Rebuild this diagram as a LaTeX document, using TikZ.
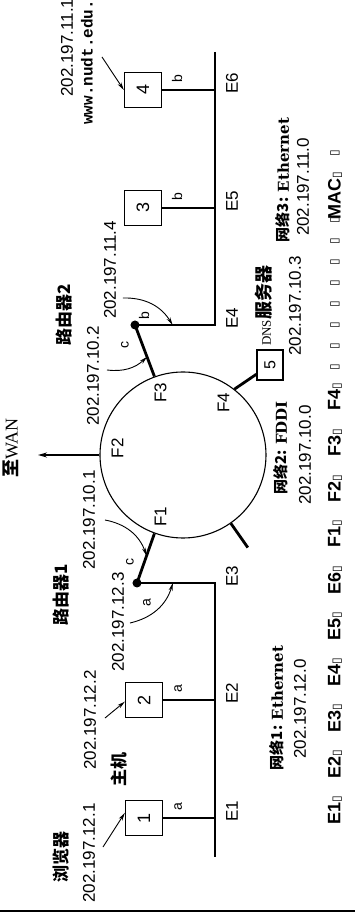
\documentclass[tikz,border=0pt]{standalone}
\usepackage{fontspec}
\setmainfont{Liberation Sans}
\newfontfamily\cjk{Noto Sans CJK SC}
\newfontfamily\wideserif{DejaVu Serif}
\newfontfamily\timesfnt{Liberation Serif}
\newfontfamily\monofnt{Liberation Mono}
\newfontfamily\symfnt{DejaVu Sans}
\usepackage{tikz}
\usetikzlibrary{arrows.meta, positioning, calc}
\newcommand{\fsz}[1]{\fontsize{#1}{#1}\selectfont}
\newcommand{\nogly}{{\symfnt\fsz{12}▯}}
\tikzset{
    myarrow/.style={-{Stealth[length=8pt, width=4pt]}, line width=0.9pt},
    hostbox/.style={draw, rectangle, line width=1.3pt, minimum width=35pt, minimum height=37pt, inner sep=0pt, font=\fsz{18}},
    router/.style={circle, fill=black, inner sep=0pt, minimum size=9pt},
    bus/.style={line width=1.8pt},
    link/.style={line width=2.8pt},
    ip/.style={inner sep=0pt, font=\fsz{17}},
    cnlabel/.style={inner sep=0pt, font=\fsz{17}\cjk\bfseries},
    port/.style={inner sep=0pt, font=\fsz{17}},
    tag/.style={inner sep=0pt, font=\fsz{14}},
    netlabel/.style={inner sep=0pt, font=\fsz{15}},
    legend/.style={inner sep=0pt, font=\fsz{18}\bfseries}
}

\begin{document}
\begin{tikzpicture}[x=1pt, y=1pt, rotate=90, transform shape]
    \useasboundingbox (0,0) rectangle (916,355);
    % network 2: the FDDI ring
    \node (ring) [circle, draw, line width=1.1pt, minimum size=166pt, inner sep=0pt] at (461,172) {};
    \coordinate (r1) at (333,218);
    \coordinate (r2) at (591,220);
    \node (h1) [hostbox] at (98,211) {1};
    \node (h2) [hostbox] at (216,211) {2};
    \node (h3) [hostbox] at (708,212) {3};
    \node (h4) [hostbox] at (826,212) {4};
    \node (h5) [hostbox, minimum width=30pt, minimum height=26pt, font=\fsz{16}] at (551,85) {5};

    % the two ethernets
    \coordinate (e3) at (333,140);
    \coordinate (e4) at (591,140);
    \coordinate (e1) at (h1 |- e3);
    \coordinate (e2) at (h2 |- e3);
    \coordinate (e5) at (h3 |- e4);
    \coordinate (e6) at (h4 |- e4);
    \coordinate (bus1end) at (59,140);
    \coordinate (bus3end) at (864,140);
    \draw [bus] (bus1end) -- (e3) -- (r1);
    \draw [bus] (bus3end) -- (e4) -- (r2);
    \foreach \h/\e in {h1/e1, h2/e2, h3/e5, h4/e6}
        \draw [bus] (\h) -- (\e);
    \foreach \e/\lbl in {e1/E1, e2/E2, e3/E3, e4/E4, e5/E5, e6/E6}
        \node (l\lbl) [port] at ($(\e)+(7,-17)$) {\lbl};
    \foreach \h/\t in {h1/a, h2/a, h3/b, h4/b}
        \node (t\h) [tag] at ($(\h.south)+(11,-15)$) {\t};

    % routers and ring stations
    \draw [link] (r1) -- (ring.160);
    \draw [link] (r2) -- (ring.20);
    \draw [link] (ring.322) -- (h5);
    \coordinate (stub) at ($(ring.center)+(215:113)$);
    \draw [link] (ring.215) -- (stub);
    \node (r1dot) [router] at (r1) {};
    \node (r2dot) [router] at (r2) {};
    \foreach \ang/\lbl in {160/F1, 84/F2, 20/F3, 322/F4}
        \node (p\lbl) [port] at ($(ring.center)!0.79!(ring.\ang)$) {\lbl};
    \node (c1) [tag] at (354,225) {c};
    \node (a1) [tag] at (313,208) {a};
    \node (c2) [tag] at (571,230) {c};
    \node (b2) [tag] at (600,211) {b};

    \coordinate (wantip) at (461,317);
    \draw [line width=1.4pt, -{Stealth[length=9pt, width=5pt]}] (ring.90) -- (wantip);
    \node (wan) [inner sep=0pt] at (468,344) {{\cjk\bfseries\fsz{18}至}{\timesfnt\fsz{18}WAN}};

    % address arrows
    \coordinate (k1) at ($(r1)!0.55!(ring.160)$);
    \coordinate (k2) at ($(r1)!0.46!(e3)$);
    \coordinate (k3) at ($(r2)!0.62!(ring.20)$);
    \coordinate (k4) at ($(r2)!0.47!(e4)$);
    \coordinate (s1) at (396,250);
    \coordinate (s2) at (293,225);
    \coordinate (s3) at (546,248);
    \coordinate (s4) at (618,232);
    \draw [myarrow] (s1) to[bend left=30] (k1);
    \draw [myarrow] (s2) to[bend right=30] (k2);
    \draw [myarrow] (s3) to[bend right=25] (k3);
    \draw [myarrow] (s4) to[bend left=30] (k4);
    \coordinate (s5) at (69,252);
    \coordinate (s6) at (198,250);
    \coordinate (s7) at (859,253);
    \draw [myarrow] (s5) -- (h1.75);
    \draw [myarrow] (s6) -- (h2.95);
    \draw [myarrow] (s7) -- (h4.north);

    % texts
    \node (brw) [cnlabel] at (59,294) {浏览器};
    \node (ip121) [ip] at (63,266) {202.197.12.1};
    \node (hst) [cnlabel] at (146,236) {主机};
    \node (ip122) [ip] at (196,265) {202.197.12.2};
    \node (rt1) [cnlabel] at (321,294) {路由器1};
    \node (ip123) [ip] at (294,237) {202.197.12.3};
    \node (ip101) [ip] at (396,266) {202.197.10.1};
    \node (rt2) [cnlabel] at (601,291) {路由器2};
    \node (ip102) [ip] at (540,262) {202.197.10.2};
    \node (ip114) [ip] at (646,245) {202.197.11.4};
    \node (ip111) [ip, anchor=west] at (819,288) {202.197.11.1};
    \node (web) [inner sep=0pt, anchor=west, font=\fsz{16}\monofnt\bfseries] at (791,268) {www.nudt.edu.cn};
    \node (dns) [inner sep=0pt] at (610,91) {{\timesfnt\fsz{13}DNS}{\cjk\bfseries\fsz{18}服务器}};
    \node (ip103) [ip] at (610,60) {202.197.10.3};
    \node (net1) [netlabel] at (208,78) {{\cjk\bfseries 网络1:} {\wideserif\bfseries Ethernet}};
    \node (ip120) [ip] at (207,55) {202.197.12.0};
    \node (net2) [netlabel] at (468,74) {{\cjk\bfseries 网络2:} {\wideserif\bfseries FDDI}};
    \node (ip100) [ip] at (461,50) {202.197.10.0};
    \node (net3) [netlabel] at (736,72) {{\cjk\bfseries 网络3:} {\wideserif\bfseries Ethernet}};
    \node (ip110) [ip] at (729,52) {202.197.11.0};

    % legend row
    \foreach \txt/\xx [count=\i] in {E1/106, E2/152, E3/198, E4/244, E5/290, E6/336, F1/382, F2/427, F3/473, F4/519, /549, /570, /591, /612, /633, /654, /675, /696, MAC/720, /763}
        \node (key\i) [legend] at (\xx,20) {\txt\nogly};

    \draw [line width=1.6pt] (5,0) -- (5,355);
\end{tikzpicture}
\end{document}
